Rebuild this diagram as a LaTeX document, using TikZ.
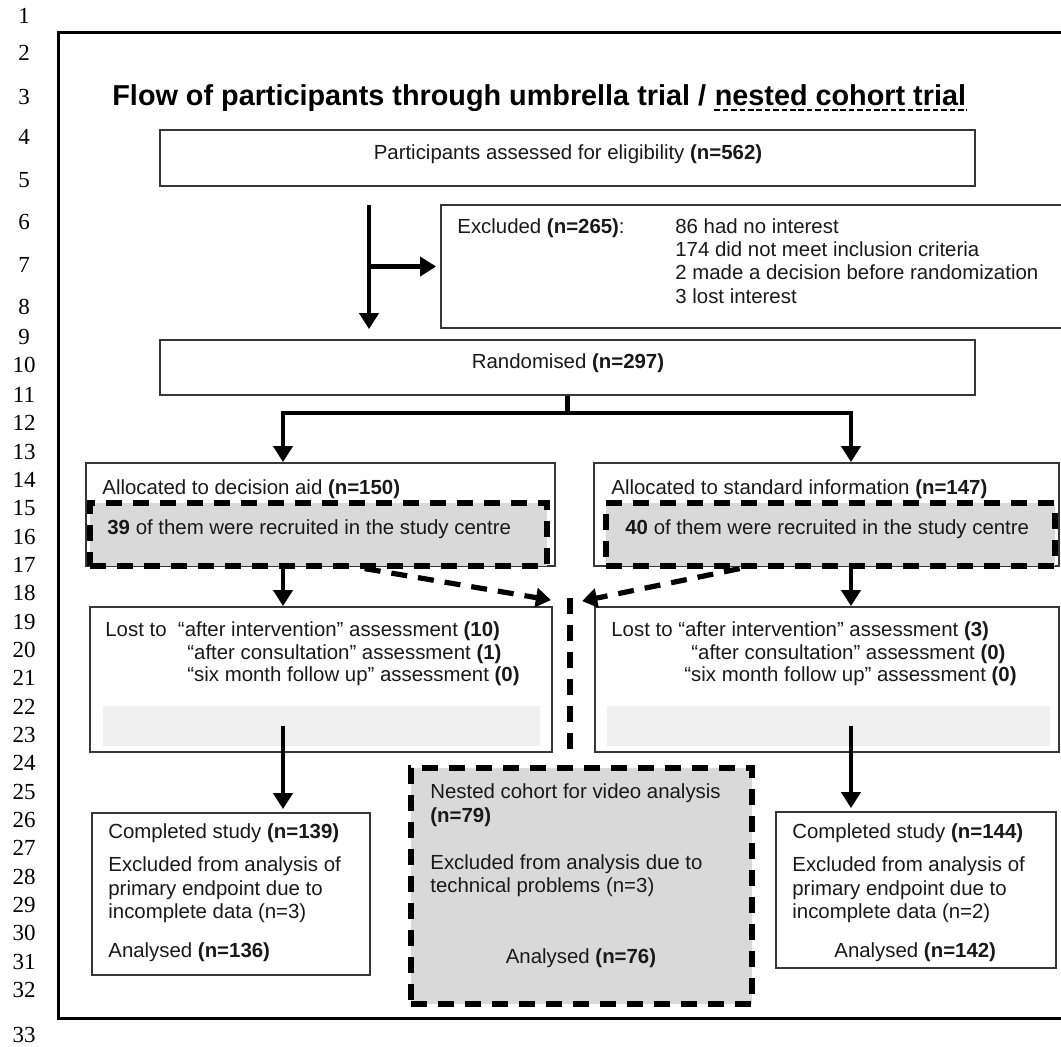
\documentclass[tikz,border=0pt]{standalone}
\usepackage{fontspec}
\setmainfont{Liberation Sans}
\newfontfamily\numfont{Liberation Serif}
\usepackage{tikz}
\usetikzlibrary{arrows.meta,calc,fit}
\definecolor{boxgray}{RGB}{217,217,217}
\definecolor{bandgray}{RGB}{240,240,240}
\definecolor{edgegray}{RGB}{55,55,55}

\tikzset{
  box/.style={draw=edgegray,line width=0.9pt,inner sep=0pt},
  dashbox/.style={draw=black,line width=2.6pt,dash pattern=on 8pt off 5.5pt,fill=boxgray,inner sep=0pt},
  band/.style={fill=bandgray,inner sep=0pt},
  txt/.style={font=\fontsize{10.2}{11.7}\selectfont,text=black!90,inner sep=0pt,anchor=base west},
  titletxt/.style={font=\fontsize{14.4}{16}\selectfont\bfseries,inner sep=0pt,anchor=base west},
  lnum/.style={font=\numfont\fontsize{11.5}{12}\selectfont,inner sep=0pt},
  arr/.style={line width=2.2pt,-{Triangle[width=9.5pt,length=8pt]}},
  dashline/.style={line width=2.6pt,dash pattern=on 8pt off 5.5pt},
  dasharr/.style={dashline,-{Triangle[width=9.5pt,length=7.5pt]}}
}

\begin{document}
\begin{tikzpicture}[x=0.5pt,y=-0.5pt]
\useasboundingbox (0,0) rectangle (1061,1046);
\clip (0,0) rectangle (1061,1046);

%Line numbers
\foreach \n/\y in {1/16,2/53,3/97,4/137,5/180,6/222,7/265,8/307,9/337,10/365,11/395,
  12/423,13/452,14/480,15/508,16/537,17/565,18/593,19/622,20/650,21/678,22/707,
  23/735,24/763,25/792,26/820,27/848,28/877,29/905,30/933,31/962,32/990,33/1035}
  \node[lnum] (ln\n) at (24,\y) {\n};

%Frame
\draw[line width=1.5pt] (58,32) rectangle (1100,1018);

%Title
\node[titletxt] (title) at (112,105) {Flow of participants through umbrella trial /};
\node[titletxt] (titlenest) at ($(title.base east)+(8,0)$) {nested cohort trial};
\draw[line width=0.8pt,dash pattern=on 2.8pt off 1.4pt] ($(titlenest.base west)+(0,5)$) -- ($(titlenest.base east)+(0,5)$);

%Boxes
\node[box,fit={(160,130) (975,186)}] (assess) {};
\node[box,fit={(441,205) (1100,328)}] (excl) {};
\node[box,fit={(160,340) (975,395)}] (rand) {};
\node[box,fit={(86,463) (555,566)}] (lalloc) {};
\node[box,fit={(594,463) (1059,566)}] (ralloc) {};
\node[dashbox,fit={(90,503) (547,566)}] (lsub) {};
\node[dashbox,fit={(606,503) (1055,566)}] (rsub) {};
\node[box,fit={(90,607) (552,752)}] (llost) {};
\node[box,fit={(595,607) (1059,752)}] (rlost) {};
\node[band,fit={(103,706) (540,746)}] (lband) {};
\node[band,fit={(607,706) (1050,746)}] (rband) {};
\node[box,fit={(92,813) (370,975)}] (lcomp) {};
\node[dashbox,fit={(411,768) (752,1004)}] (nest) {};
\node[box,fit={(776,812) (1056,968)}] (rcomp) {};

%Texts
\node[txt,anchor=base] (assesstxt) at (568,159) {Participants assessed for eligibility \textbf{(n=562)}};
\node[txt] (excltxt) at (457,233) {Excluded \textbf{(n=265)}:};
\foreach \t [count=\i] in {86 had no interest,174 did not meet inclusion criteria,
  2 made a decision before randomization,3 lost interest}
  \node[txt] (exclreason\i) at (675,{210+23.3*\i}) {\t};
\node[txt,anchor=base] (randtxt) at (568,368) {Randomised \textbf{(n=297)}};
\node[txt] (lalloctxt) at (102,494) {Allocated to decision aid \textbf{(n=150)}};
\node[txt] (lsubtxt) at (107,534) {\textbf{39} of them were recruited in the study centre};
\node[txt] (ralloctxt) at (611,494) {Allocated to standard information \textbf{(n=147)}};
\node[txt] (rsubtxt) at (625,534) {\textbf{40} of them were recruited in the study centre};

\node[txt] (llost1) at (105,636) {Lost to\ \ “after intervention” assessment \textbf{(10)}};
\node[txt] (llost2) at (187,659) {“after consultation” assessment \textbf{(1)}};
\node[txt] (llost3) at (187,681) {“six month follow up” assessment \textbf{(0)}};
\node[txt] (rlost1) at (611,636) {Lost to “after intervention” assessment \textbf{(3)}};
\node[txt] (rlost2) at (691,659) {“after consultation” assessment \textbf{(0)}};
\node[txt] (rlost3) at (684,681) {“six month follow up” assessment \textbf{(0)}};

\node[txt] (lcomp1) at (108,838) {Completed study \textbf{(n=139)}};
\node[txt] (lcomp2) at (108,871) {Excluded from analysis of};
\node[txt] (lcomp3) at (108,895) {primary endpoint due to};
\node[txt] (lcomp4) at (108,918) {incomplete data (n=3)};
\node[txt] (lcomp5) at (108,957) {Analysed \textbf{(n=136)}};

\node[txt] (nest1) at (430,798) {Nested cohort for video analysis};
\node[txt] (nest2) at (430,822) {\textbf{(n=79)}};
\node[txt] (nest3) at (430,869) {Excluded from analysis due to};
\node[txt] (nest4) at (430,892) {technical problems (n=3)};
\node[txt,anchor=base] (nest5) at (581,963) {Analysed \textbf{(n=76)}};

\node[txt] (rcomp1) at (792,838) {Completed study \textbf{(n=144)}};
\node[txt] (rcomp2) at (792,871) {Excluded from analysis of};
\node[txt] (rcomp3) at (792,895) {primary endpoint due to};
\node[txt] (rcomp4) at (792,918) {incomplete data (n=2)};
\node[txt] (rcomp5) at (834,957) {Analysed \textbf{(n=142)}};

%Arrows
\coordinate (a1) at (369,205);
\coordinate (colL) at (283,0);
\coordinate (colR) at (851,0);
\coordinate (merge) at (570,598);
\draw[arr] (a1) -- ($(a1 |- rand.north)+(0,-10)$);
\draw[arr] (a1 |- excl.west) -- ($(excl.west)+(-4,0)$);
\draw[line width=2.2pt] (rand.south) -- ++(0,17) coordinate (fork);
\draw[arr] (fork) -| (colL |- lalloc.north);
\draw[arr] (fork) -| (colR |- ralloc.north);
\draw[arr] (colL |- lalloc.south) -- (colL |- llost.north);
\draw[arr] (colR |- ralloc.south) -- (colR |- rlost.north);
\draw[arr] (colL |- lband.center) -- ($(colL |- lcomp.north)+(0,-3)$);
\draw[arr] (colR |- rband.center) -- ($(colR |- rcomp.north)+(0,-3)$);

%Nested cohort
\draw[dasharr] ($(lsub.south west)!0.6!(lsub.south east)$) -- ($(llost.north east)+(-2,-6)$);
\draw[dasharr] ($(rsub.south west)!0.3!(rsub.south east)$) -- ($(rlost.north west)+(-12,-5)$);
\draw[dashline] (merge) -- (merge |- llost.south);
\end{tikzpicture}
\end{document}
